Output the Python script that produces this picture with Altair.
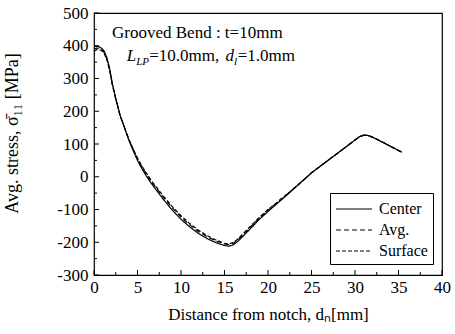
import altair as alt
import pandas as pd

# ---- data ----
dist = [0, 0.3, 0.6, 0.9, 1.2, 1.5, 1.8, 2.1, 2.5, 3.0, 3.5, 4.0, 4.5, 5.0, 5.5,
        6.0, 6.5, 7.0, 8.0, 9.0, 10.0, 11.0, 12.0, 13.0, 14.0, 15.0, 15.5, 16.0,
        16.5, 17.0, 18.0, 19.0, 20.0, 21.0, 22.0, 23.0, 24.0, 25.0, 26.0, 27.0,
        28.0, 29.0, 30.0, 30.5, 31.0, 31.5, 32.0, 33.0, 34.0, 35.0, 35.4]
center = [398, 398, 397, 392, 382, 362, 330, 285, 240, 188, 150, 112, 80, 50, 25,
          3, -17, -35, -70, -102, -130, -153, -173, -189, -201, -210, -212, -208,
          -198, -185, -158, -130, -106, -83, -60, -36, -12, 12, 32, 52,
          72, 92, 112, 122, 127, 126, 121, 108, 94, 80, 75]
avg = [390, 393, 392, 388, 378, 358, 327, 283, 238, 187, 151, 114, 83, 55, 30,
       9, -11, -29, -63, -95, -123, -147, -167, -183, -196, -205, -207, -203,
       -193, -180, -153, -126, -102, -80, -58, -35, -12, 12, 32, 52,
       72, 92, 112, 122, 127, 126, 121, 108, 94, 80, 75]
surface = [383, 388, 388, 385, 375, 355, 325, 282, 237, 186, 151, 115, 85, 57, 33,
           12, -8, -26, -60, -91, -119, -143, -163, -180, -193, -203, -205, -201,
           -191, -178, -151, -124, -100, -79, -57, -35, -12, 12, 32, 52,
           72, 92, 112, 122, 127, 126, 121, 108, 94, 80, 75]
series_names = ["Center", "Avg.", "Surface"]

y_major = [-300, -200, -100, 0, 100, 200, 300, 400, 500]
y_minor = [-250, -150, -50, 50, 150, 250, 350, 450]
x_major = [0, 5, 10, 15, 20, 25, 30, 35, 40]
x_minor = [2.5, 7.5, 12.5, 17.5, 22.5, 27.5, 32.5, 37.5]

FONT = "Liberation Serif"
W, H = 348, 262

rows = []
for name, vals in zip(series_names, [center, avg, surface]):
    for d, v in zip(dist, vals):
        rows.append({"d": d, "s": v, "series": name})
df = pd.DataFrame(rows)

xscale = alt.Scale(domain=[0, 40], nice=False, zero=False)
yscale = alt.Scale(domain=[-300, 500], nice=False, zero=False)

lines = alt.Chart(df).mark_line(color="black", strokeWidth=1.2).encode(
    x=alt.X("d:Q", scale=xscale,
            axis=alt.Axis(values=x_major, tickCount=20,
                          title="Distance from notch, dₙ[mm]",
                          titleBaseline="alphabetic", titleY=44)),
    y=alt.Y("s:Q", scale=yscale,
            axis=alt.Axis(values=y_major, tickCount=20,
                          title="Avg. stress, σ̄₁₁ [MPa]",
                          labelExpr="'' + datum.value",
                          titleFontSize=18,
                          titleAngle=-90, titleX=-82, titleY=120,
                          titleAlign="center", titleBaseline="middle")),
    strokeDash=alt.StrokeDash(
        "series:N",
        scale=alt.Scale(domain=series_names, range=[[1, 0], [5, 3], [4, 2]]),
        legend=alt.Legend(title=None, orient="none", legendX=236, legendY=180,
                          symbolType="M-1,0H2.6", symbolSize=400,
                          symbolStrokeWidth=1.2, symbolStrokeColor="black",
                          labelFont=FONT, labelFontSize=16, labelColor="black",
                          strokeColor="black", fillColor="white", padding=5,
                          rowPadding=2, labelOffset=22)),
    detail="series:N",
)

ymaj = pd.DataFrame({"v": y_major})
ymin = pd.DataFrame({"v": y_minor})
xmaj = pd.DataFrame({"v": x_major})
xmin = pd.DataFrame({"v": x_minor})

tick_y_major = alt.Chart(ymaj).mark_rule(color="black", strokeWidth=1).encode(
    y=alt.Y("v:Q", scale=yscale), x=alt.value(0), x2=alt.value(5))
tick_y_minor = alt.Chart(ymin).mark_rule(color="black", strokeWidth=1).encode(
    y=alt.Y("v:Q", scale=yscale), x=alt.value(0), x2=alt.value(3))
tick_x_major = alt.Chart(xmaj).mark_rule(color="black", strokeWidth=1).encode(
    x=alt.X("v:Q", scale=xscale), y=alt.value(H), y2=alt.value(H - 5))
tick_x_minor = alt.Chart(xmin).mark_rule(color="black", strokeWidth=1).encode(
    x=alt.X("v:Q", scale=xscale), y=alt.value(H), y2=alt.value(H - 3))

# annotation text
anchor1 = pd.DataFrame({"d": [2.07], "s": [423]})
anchor2 = pd.DataFrame({"d": [3.76], "s": [353]})

def seg(anchor, text, dx, size=17, style="normal", dy=0):
    return alt.Chart(anchor).mark_text(
        text=text, align="left", baseline="alphabetic", dx=dx, dy=dy,
        font=FONT, fontSize=size, fontStyle=style, color="black"
    ).encode(x=alt.X("d:Q", scale=xscale), y=alt.Y("s:Q", scale=yscale))

ann = [
    seg(anchor1, "Grooved Bend : t=10mm", 0),
    seg(anchor2, "L", 0, style="italic"),
    seg(anchor2, "LP", 9.5, size=11, style="italic", dy=4),
    seg(anchor2, "=10.0mm, ", 22.5),
    seg(anchor2, "d", 98.7, style="italic"),
    seg(anchor2, "l", 107.4, size=11, style="italic", dy=4),
    seg(anchor2, "=1.0mm", 111),
]

chart = alt.layer(
    lines, tick_y_major, tick_y_minor, tick_x_major, tick_x_minor, *ann
).properties(
    width=W, height=H,
    autosize=alt.AutoSizeParams(type="none"),
    padding={"left": 94, "top": 13, "right": 13, "bottom": 59},
    background="white",
).configure_view(
    stroke="black", strokeWidth=1.2
).configure_axis(
    ticks=False, tickSize=0, domain=False, grid=False,
    labelOverlap=False, labelBound=False, labelFlush=False,
    labelFontSize=17, labelFont=FONT, labelColor="black",
    titleFont=FONT, titleFontSize=17, titleFontWeight="normal",
    titleColor="black",
).configure_axisX(labelPadding=4).configure_axisY(labelPadding=6)

chart.save("out.html", embed_options={"renderer": "svg", "actions": False})
